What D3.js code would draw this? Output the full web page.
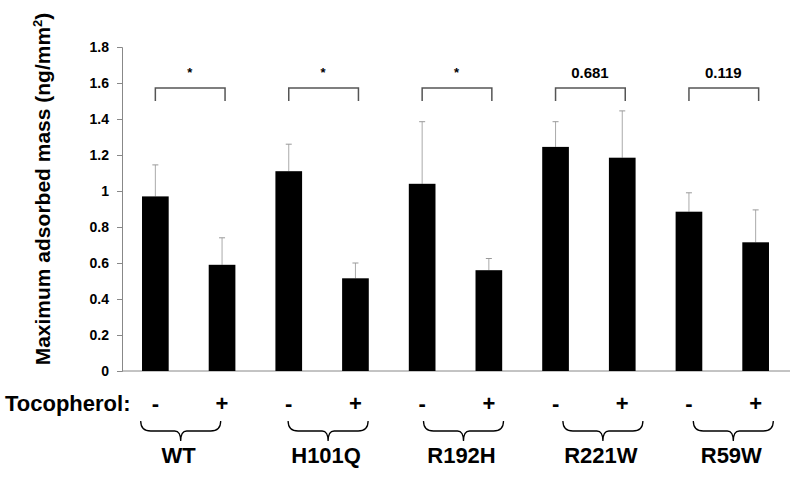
<!doctype html>
<html lang="en">
<head>
  <meta charset="utf-8">
  <title>Maximum adsorbed mass</title>
  <script src="https://d3js.org/d3.v7.min.js"></script>
  <style>
    body { margin: 0; background: #fff; }
    text { font-family: "Liberation Sans", Arial, sans-serif; font-weight: bold; fill: #000; }
  </style>
</head>
<body>
  <div id="chart"></div>
  <script type="text/javascript">
	// groups and their two conditions (- / + tocopherol)
	var groups = ["WT", "H101Q", "R192H", "R221W", "R59W"];
	var conditions = ["-", "+"];
	var means = [0.97, 0.59, 1.11, 0.515, 1.04, 0.56, 1.245, 1.185, 0.885, 0.715];
	var errTops = [1.145, 0.74, 1.26, 0.60, 1.385, 0.625, 1.385, 1.445, 0.99, 0.895];
	var pLabels = ["*", "*", "*", "0.681", "0.119"];
	var yTicks = [0, 0.2, 0.4, 0.6, 0.8, 1, 1.2, 1.4, 1.6, 1.8];

	var width = 800, height = 477;
	var mLeft = 122, mRight = 789, mTop = 47, mBottom = 371;

	var svg = d3.select('#chart')
				.append('svg')
				.attr('width', width)
				.attr('height', height);

	// one band per bar
	var keys = means.map(function(d, i) { return i; });
	var x = d3.scaleBand()
				.domain(keys)
				.range([mLeft, mRight])
				.paddingInner(0.6)
				.paddingOuter(0.3);

	var y = d3.scaleLinear()
				.domain([0, 1.8])
				.range([mBottom, mTop]);

	function cx(i) { return x(i) + x.bandwidth() / 2; }

	// y axis
	var yAxis = svg.append('g')
				.attr('transform', 'translate(' + mLeft + ',0)')
				.call(d3.axisLeft(y).tickValues(yTicks).tickSize(5).tickPadding(8)
						.tickFormat(function(d) { return d === 0 || d === 1 ? d : d3.format('.1f')(d); }));
	yAxis.select('.domain').attr('stroke', '#888');
	yAxis.selectAll('.tick line').attr('stroke', '#888');
	yAxis.selectAll('.tick text').style('font-size', '14px').style('font-weight', 'bold')
				.style('font-family', '"Liberation Sans", Arial, sans-serif').attr('fill', '#000');

	// baseline
	svg.append('line')
		.attr('x1', mLeft).attr('x2', mRight + 1)
		.attr('y1', y(0)).attr('y2', y(0))
		.attr('stroke', '#888');

	// error bars (upper only, grey)
	var err = svg.selectAll('.err')
				.data(errTops)
				.enter()
				.append('g')
				.attr('class', 'err');
	err.append('line')
		.attr('x1', function(d, i) { return cx(i); })
		.attr('x2', function(d, i) { return cx(i); })
		.attr('y1', function(d, i) { return y(means[i]); })
		.attr('y2', function(d) { return y(d); })
		.attr('stroke', '#aaa').attr('stroke-width', 1);
	err.append('line')
		.attr('x1', function(d, i) { return cx(i) - 3; })
		.attr('x2', function(d, i) { return cx(i) + 3; })
		.attr('y1', function(d) { return y(d); })
		.attr('y2', function(d) { return y(d); })
		.attr('stroke', '#999').attr('stroke-width', 1);

	// bars
	svg.selectAll('.bar')
		.data(means)
		.enter()
		.append('rect')
		.attr('class', 'bar')
		.attr('x', function(d, i) { return x(i); })
		.attr('width', x.bandwidth())
		.attr('y', function(d) { return y(d); })
		.attr('height', function(d) { return y(0) - y(d); })
		.attr('fill', '#000');

	// significance brackets
	var brTop = y(1.572), brBot = y(1.5);
	var br = svg.selectAll('.bracket')
				.data(pLabels)
				.enter()
				.append('g')
				.attr('class', 'bracket');
	br.append('path')
		.attr('d', function(d, g) {
			var a = cx(g * 2), b = cx(g * 2 + 1) + 3;
			return 'M' + a + ',' + brBot + 'V' + brTop + 'H' + b + 'V' + brBot;
		})
		.attr('fill', 'none').attr('stroke', '#555').attr('stroke-width', 1.5);
	br.append('text')
		.attr('x', function(d, g) { return (cx(g * 2) + cx(g * 2 + 1)) / 2 + 1; })
		.attr('y', function(d) { return d === '*' ? 77 : 78; })
		.attr('text-anchor', 'middle')
		.style('font-size', function(d) { return d === '*' ? '13px' : '15px'; })
		.text(function(d) { return d; });

	// y label
	svg.append('text')
		.attr('transform', 'translate(50,189) rotate(-90)')
		.attr('text-anchor', 'middle')
		.style('font-size', '21px')
		.html('Maximum adsorbed mass (ng/mm<tspan dy="-8" font-size="13px">2</tspan><tspan dy="8">)</tspan>');

	// tocopherol row
	svg.append('text')
		.attr('x', 5).attr('y', 411)
		.style('font-size', '22px')
		.text('Tocopherol:');
	svg.selectAll('.cond')
		.data(means)
		.enter()
		.append('text')
		.attr('class', 'cond')
		.attr('x', function(d, i) { return cx(i); })
		.attr('y', 411)
		.attr('text-anchor', 'middle')
		.style('font-size', '22px')
		.text(function(d, i) { return conditions[i % 2]; });

	// braces + group names
	var braceX = [-8, 6, 8, 14, 11];
	var gg = svg.selectAll('.grp')
				.data(groups)
				.enter()
				.append('g')
				.attr('class', 'grp')
				.attr('transform', function(d, g) {
					var m = (cx(g * 2) + cx(g * 2 + 1)) / 2 + braceX[g];
					return 'translate(' + m + ',0)';
				});
	gg.append('path')
		.attr('d', 'M-40,421 Q-40,431 -30,431 H-6 Q0,431 0,441 Q0,431 6,431 H30 Q40,431 40,421')
		.attr('fill', 'none').attr('stroke', '#000').attr('stroke-width', 1.3);
	gg.append('text')
		.attr('x', -2).attr('y', 463)
		.attr('text-anchor', 'middle')
		.style('font-size', '22px')
		.text(function(d) { return d; });
  </script>
</body>
</html>
